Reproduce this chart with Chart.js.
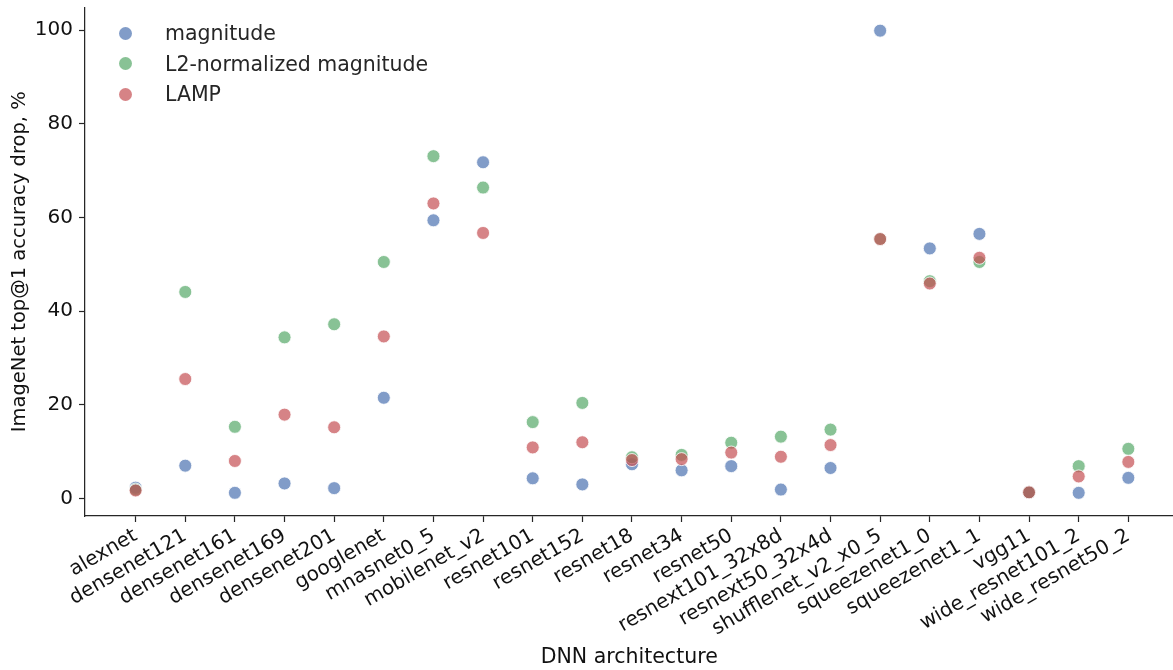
<!DOCTYPE html>
<html>
<head>
<meta charset="utf-8">
<script src="https://cdn.jsdelivr.net/npm/chart.js@4/dist/chart.umd.min.js"></script>
<style>
  html, body { margin: 0; padding: 0; background: #fff; overflow: hidden; }
  #wrap { position: relative; width: 1173px; height: 670px; overflow: hidden; }
  #legend { position: absolute; left: 119px; top: 18px; font-family: "DejaVu Sans", sans-serif; font-size: 20.5px; color: #262626; }
  #legend div { height: 30.5px; display: flex; align-items: center; }
  #legend span.dot { display: inline-block; width: 13px; height: 13px; border-radius: 50%; margin-right: 33px; }
</style>
</head>
<body>
<div id="wrap">
  <canvas id="myChart" width="1181" height="670"></canvas>
  <div id="legend"></div>
</div>
<script>
const archs = [
  'alexnet', 'densenet121', 'densenet161', 'densenet169', 'densenet201',
  'googlenet', 'mnasnet0_5', 'mobilenet_v2', 'resnet101', 'resnet152',
  'resnet18', 'resnet34', 'resnet50', 'resnext101_32x8d', 'resnext50_32x4d',
  'shufflenet_v2_x0_5', 'squeezenet1_0', 'squeezenet1_1', 'vgg11',
  'wide_resnet101_2', 'wide_resnet50_2'
];
const magnitude = [
  2.3, 7.0, 1.2, 3.2, 2.2, 21.5, 59.4, 71.8, 4.3, 3.0,
  7.3, 6.0, 6.9, 1.9, 6.5, 99.9, 53.4, 56.5, 1.3, 1.2, 4.4
];
const l2norm = [
  1.9, 44.1, 15.3, 34.4, 37.2, 50.5, 73.1, 66.4, 16.3, 20.4,
  8.8, 9.3, 11.9, 13.2, 14.7, 55.4, 46.4, 50.5, 1.3, 6.9, 10.6
];
const lamp = [
  1.7, 25.5, 8.0, 17.9, 15.2, 34.6, 63.0, 56.7, 10.9, 12.0,
  8.2, 8.4, 9.8, 8.9, 11.4, 55.4, 45.9, 51.4, 1.3, 4.7, 7.8
];
const yTicks = [0, 20, 40, 60, 80, 100];

const series = [
  { label: 'magnitude', values: magnitude, color: 'rgba(76, 114, 176, 0.7)', order: 3 },
  { label: 'L2-normalized magnitude', values: l2norm, color: 'rgba(85, 168, 104, 0.7)', order: 2 },
  { label: 'LAMP', values: lamp, color: 'rgba(196, 78, 82, 0.7)', order: 1 }
];

const font = 'DejaVu Sans';
const ink = '#262626';

const dataConfig = {
  datasets: series.map(s => ({
    label: s.label,
    data: s.values.map((v, i) => ({ x: i, y: v })),
    backgroundColor: s.color,
    borderColor: 'rgba(255, 255, 255, 0.8)',
    borderWidth: 1,
    pointRadius: 6.5,
    order: s.order
  }))
};

// canvas is 8px wider than the page so the x axis runs to the right edge
const config = {
  type: 'scatter',
  data: dataConfig,
  options: {
    responsive: false,
    animation: false,
    layout: { padding: { top: 5, right: 0, left: 0, bottom: 0 } },
    plugins: { legend: { display: false }, tooltip: { enabled: false } },
    scales: {
      x: {
        type: 'linear',
        min: -1.02,
        max: 20.91,
        afterBuildTicks: scale => { scale.ticks = archs.map((_, i) => ({ value: i })); },
        afterFit: scale => { scale.height = 154; scale.paddingLeft = 0; scale.paddingRight = 0; },
        ticks: {
          autoSkip: false,
          minRotation: 30,
          maxRotation: 30,
          padding: 2,
          color: '#111',
          font: { family: font, size: 20 },
          callback: v => archs[v]
        },
        grid: { drawOnChartArea: false, drawTicks: true, tickLength: 6, tickColor: ink, tickWidth: 1.2 },
        border: { display: true, color: ink, width: 1.25 },
        title: { display: true, text: 'DNN architecture', color: '#111', font: { family: font, size: 20.5 }, padding: { top: 0, bottom: 0 } }
      },
      y: {
        min: -3.75,
        max: 104.85,
        afterBuildTicks: scale => { scale.ticks = yTicks.map(v => ({ value: v })); },
        afterFit: scale => { scale.width = 85; scale.paddingTop = 0; scale.paddingBottom = 0; },
        ticks: { padding: 6, color: '#111', font: { family: font, size: 20 } },
        grid: { drawOnChartArea: false, drawTicks: true, tickLength: 6, tickColor: ink, tickWidth: 1.2 },
        border: { display: true, color: ink, width: 1.25 },
        title: { display: true, text: 'ImageNet top@1 accuracy drop, %', color: '#111', font: { family: font, size: 19.5 }, padding: { top: 8, bottom: 0 } }
      }
    }
  }
};

new Chart(document.getElementById('myChart'), config);

// legend, upper left, inside the plot
const legend = document.getElementById('legend');
series.forEach(s => {
  const row = document.createElement('div');
  row.innerHTML = `<span class="dot" style="background:${s.color}"></span><span>${s.label}</span>`;
  legend.appendChild(row);
});
</script>
</body>
</html>
